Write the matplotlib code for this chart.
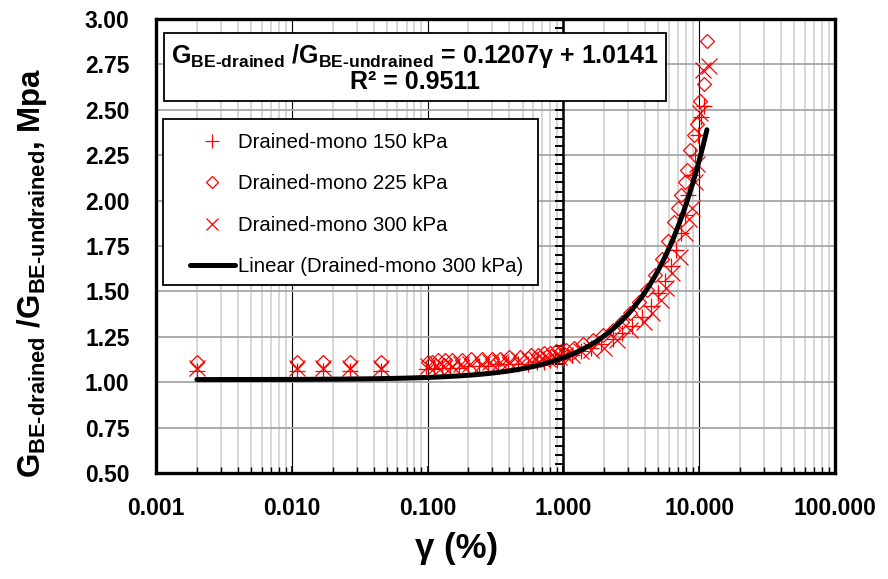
import numpy as np
import matplotlib
matplotlib.use("Agg")
import matplotlib.pyplot as plt
from matplotlib.patches import Rectangle
from matplotlib.ticker import LogLocator, FixedLocator, FixedFormatter, NullFormatter

plt.rcParams["font.family"] = ["Liberation Sans", "DejaVu Sans"]
plt.rcParams["mathtext.fontset"] = "custom"
plt.rcParams["mathtext.rm"] = "Liberation Sans:bold"
plt.rcParams["mathtext.it"] = "Liberation Sans:bold"
plt.rcParams["mathtext.bf"] = "Liberation Sans:bold"

# Shear strain (%) and modulus ratio for each drained monotonic test
gamma_150 = [0.002, 0.011, 0.017, 0.027, 0.045, 0.098, 0.112, 0.128, 0.145, 0.17,
             0.20, 0.24, 0.28, 0.33, 0.39, 0.46, 0.55, 0.64, 0.72, 0.80, 0.90, 1.00,
             1.15, 1.35, 1.60, 1.90, 2.30, 2.70, 3.20, 3.80, 4.40, 5.00, 5.60, 6.20,
             6.80, 7.30, 7.80, 8.30, 8.80, 9.30, 9.80, 10.30, 10.80]
ratio_150 = [1.06, 1.06, 1.06, 1.06, 1.06, 1.07, 1.07, 1.08, 1.08, 1.08,
             1.09, 1.09, 1.09, 1.10, 1.10, 1.10, 1.10, 1.11, 1.11, 1.12, 1.12, 1.13,
             1.15, 1.17, 1.19, 1.21, 1.24, 1.27, 1.31, 1.36, 1.42, 1.49, 1.56, 1.64,
             1.73, 1.82, 1.92, 2.03, 2.14, 2.25, 2.36, 2.46, 2.52]

gamma_225 = [0.002, 0.011, 0.017, 0.027, 0.045, 0.100, 0.108, 0.120, 0.135, 0.150,
             0.18, 0.21, 0.25, 0.30, 0.34, 0.40, 0.48, 0.58, 0.65, 0.72, 0.80, 0.88,
             0.96, 1.05, 1.20, 1.40, 1.65, 1.95, 2.30, 2.70, 3.10, 3.60, 4.10, 4.70,
             5.30, 5.90, 6.50, 7.00, 7.40, 7.80, 8.20, 8.60, 9.10, 9.60, 10.20, 10.80,
             11.40]
ratio_225 = [1.11, 1.11, 1.11, 1.11, 1.11, 1.11, 1.11, 1.12, 1.12, 1.12,
             1.12, 1.13, 1.13, 1.13, 1.13, 1.14, 1.14, 1.15, 1.15, 1.16, 1.16, 1.17,
             1.17, 1.18, 1.19, 1.21, 1.23, 1.26, 1.29, 1.33, 1.38, 1.44, 1.51, 1.59,
             1.68, 1.78, 1.88, 1.96, 2.03, 2.10, 2.17, 2.28, 2.36, 2.42, 2.55, 2.64,
             2.88]

gamma_300 = [0.002, 0.011, 0.017, 0.027, 0.045, 0.100, 0.115, 0.130, 0.150, 0.175,
             0.205, 0.25, 0.29, 0.34, 0.40, 0.47, 0.56, 0.63, 0.70, 0.77, 0.85, 0.93,
             1.02, 1.15, 1.35, 1.60, 2.00, 2.50, 3.10, 3.90, 4.50, 5.20, 5.70, 6.30,
             7.20, 7.80, 8.40, 8.90, 9.30, 9.70, 10.10, 10.60, 11.80]
ratio_300 = [1.08, 1.08, 1.08, 1.08, 1.08, 1.09, 1.09, 1.09, 1.09, 1.10,
             1.10, 1.10, 1.11, 1.11, 1.11, 1.12, 1.12, 1.13, 1.13, 1.13, 1.14, 1.14,
             1.15, 1.15, 1.17, 1.18, 1.19, 1.23, 1.29, 1.33, 1.38, 1.45, 1.52, 1.60,
             1.69, 1.82, 1.90, 1.96, 2.10, 2.20, 2.48, 2.72, 2.74]

# Linear trend fitted to the 300 kPa test
slope, intercept, r_squared = 0.1207, 1.0141, 0.9511
fit_range = (0.002, 11.4)

x_ticks = [0.001, 0.01, 0.1, 1, 10, 100]
x_tick_labels = ["0.001", "0.010", "0.100", "1.000", "10.000", "100.000"]
y_ticks = [0.50, 0.75, 1.00, 1.25, 1.50, 1.75, 2.00, 2.25, 2.50, 2.75, 3.00]

fig = plt.figure(figsize=(8.88, 5.79), dpi=100)
ax = fig.add_axes([156 / 888, 1 - 473 / 579, (835 - 156) / 888, (473 - 19) / 579])
ax.set_xscale("log")
ax.set_xlim(0.001, 100)
ax.set_ylim(0.5, 3.0)

# grid
ax.set_yticks(y_ticks)
ax.set_yticklabels([f"{v:.2f}" for v in y_ticks])
ax.xaxis.set_major_locator(FixedLocator(x_ticks))
ax.xaxis.set_major_formatter(FixedFormatter(x_tick_labels))
ax.xaxis.set_minor_locator(LogLocator(base=10, subs=np.arange(2, 10), numticks=20))
ax.xaxis.set_minor_formatter(NullFormatter())
ax.grid(True, which="minor", axis="x", color="#d4d4d4", lw=1.3, zorder=0)
ax.grid(True, which="major", axis="x", color="black", lw=0.8, zorder=0)
ax.grid(True, which="major", axis="y", color="#a6a6a6", lw=1.3, zorder=0)
ax.set_axisbelow(True)

ax.tick_params(axis="y", which="both", left=False, labelsize=16.5, pad=15.5)
ax.tick_params(axis="x", which="major", direction="in", length=5, width=1.2,
               labelsize=16.5, pad=17)
ax.tick_params(axis="x", which="minor", direction="in", length=4, width=1.0)
for lab in ax.get_xticklabels() + ax.get_yticklabels():
    lab.set_fontweight("bold")
for s in ax.spines.values():
    s.set_linewidth(2.4)

# vertical value axis crossing at gamma = 1
ax.axvline(1, color="black", lw=1.8, zorder=1)
axis_ticks = np.arange(0.5, 3.001, 0.05)
ax.plot(np.ones_like(axis_ticks), axis_ticks, ls="none", marker=0, ms=6,
        mew=1.4, color="black", zorder=1, clip_on=False)

red = "#ff0000"
ax.plot(gamma_150, ratio_150, ls="none", marker="+", ms=12, mew=0.9, color=red,
        label="Drained-mono 150 kPa", zorder=3)
ax.plot(gamma_225, ratio_225, ls="none", marker="D", ms=7.5, mew=0.9, mfc="none",
        mec=red, label="Drained-mono 225 kPa", zorder=3)
ax.plot(gamma_300, ratio_300, ls="none", marker="x", ms=11, mew=0.9, color=red,
        label="Drained-mono 300 kPa", zorder=3)

g_fit = np.geomspace(fit_range[0], fit_range[1], 300)
ax.plot(g_fit, slope * g_fit + intercept, color="black", lw=3.6,
        solid_capstyle="round", label="Linear (Drained-mono 300 kPa)", zorder=4)

# legend panel: white box with black frame, entries placed inside it
ax.add_patch(Rectangle((0.0103, 0.414), 0.552, 0.366, transform=ax.transAxes,
                       fc="white", ec="black", lw=1.3, zorder=5))
leg = ax.legend(loc="upper left", bbox_to_anchor=(0.050, 0.749), borderaxespad=0,
                fontsize=14.7, frameon=False, labelspacing=1.1,
                handlelength=2.2, handletextpad=0.15, borderpad=0,
                markerscale=0.8)
leg.set_zorder(6)

eq = (r"G$_{\text{BE-drained}}$ /G$_{\text{BE-undrained}}$ = "
      f"{slope:.4f}γ + {intercept:.4f}\nR² = {r_squared:.4f}")
ax.text(0.381, 0.891, eq, transform=ax.transAxes, ha="center", va="center",
        multialignment="center", fontsize=18, fontweight="bold", zorder=6,
        linespacing=1.0,
        bbox=dict(boxstyle="square,pad=0.28", fc="white", ec="black", lw=1.3))

ax.set_xlabel("γ (%)", fontsize=25, fontweight="bold")
ax.xaxis.set_label_coords(0.443, -0.13)
ax.set_ylabel(r"G$_{\text{BE-drained}}$ /G$_{\text{BE-undrained}}$, Mpa",
              fontsize=22.5, fontweight="bold")
ax.yaxis.set_label_coords(-0.158, 0.44)

fig.savefig("out.png", dpi=100)
